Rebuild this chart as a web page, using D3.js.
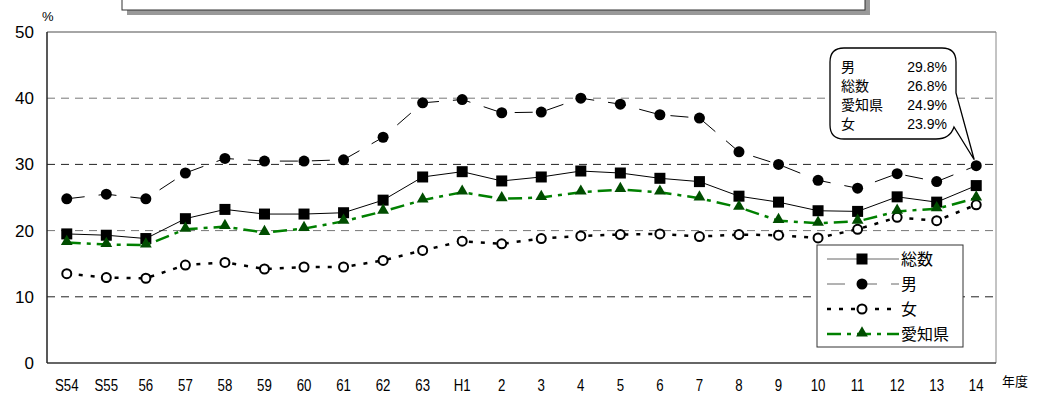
<!DOCTYPE html>
<html><head><meta charset="utf-8">
<script src="https://cdn.jsdelivr.net/npm/d3@7"></script>
<style>body{margin:0;background:#fff}text{font-family:"Liberation Sans","Noto Sans CJK JP",sans-serif}</style>
</head><body><div id="chart"></div>
<script>
// data
const years = ["S54","S55","56","57","58","59","60","61","62","63","H1","2","3","4","5","6","7","8","9","10","11","12","13","14"];
const total = [19.5,19.3,18.8,21.8,23.2,22.5,22.5,22.7,24.6,28.1,28.9,27.5,28.1,29.0,28.7,27.9,27.4,25.2,24.3,23.0,22.9,25.1,24.3,26.8];
const male = [24.8,25.5,24.8,28.7,30.9,30.5,30.5,30.7,34.1,39.3,39.8,37.8,37.9,40.0,39.1,37.5,37.0,31.9,30.0,27.6,26.4,28.6,27.4,29.8];
const female = [13.5,12.9,12.8,14.8,15.2,14.2,14.5,14.5,15.5,17.0,18.4,18.0,18.8,19.2,19.4,19.5,19.1,19.4,19.3,18.9,20.2,22.0,21.5,23.9];
const aichi = [18.2,17.9,17.8,20.2,20.6,19.7,20.3,21.4,22.9,24.6,25.8,24.8,25.0,25.8,26.2,25.8,24.9,23.5,21.5,21.1,21.4,22.9,23.3,24.9];
const yTicks = [0,10,20,30,40,50];

const W = 1042, H = 400;
const pLeft = 47, pRight = 996, pTop = 32, pBottom = 363;
const svg = d3.select("#chart").append("svg").attr("width", W).attr("height", H);

const x = d3.scaleBand().domain(years).range([pLeft, pRight]);
const cx = d => x(d) + x.bandwidth() / 2;
const y = d3.scaleLinear().domain([0, 50]).range([pBottom, pTop]);

// title box (text cut off above the frame)
svg.append("rect").attr("x", 127).attr("y", -10).attr("width", 743).attr("height", 25).attr("fill", "#999");
svg.append("rect").attr("x", 122).attr("y", -15).attr("width", 743).attr("height", 25).attr("fill", "#fff").attr("stroke", "#333");

// grid
svg.append("g").selectAll("line").data(yTicks.filter(t => t > 0 && t < 50)).join("line")
    .attr("x1", pLeft).attr("x2", pRight).attr("y1", d => y(d)).attr("y2", d => y(d))
    .attr("stroke", (d, i) => i % 2 ? "#777" : "#222").attr("stroke-dasharray", "8,6");

// frame
svg.append("line").attr("x1", pLeft).attr("x2", pRight).attr("y1", pTop).attr("y2", pTop).attr("stroke", "#888").attr("stroke-width", 1.5);
svg.append("line").attr("x1", pRight).attr("x2", pRight).attr("y1", pTop).attr("y2", pBottom).attr("stroke", "#888");
svg.append("line").attr("x1", pLeft).attr("x2", pRight).attr("y1", pBottom).attr("y2", pBottom).attr("stroke", "#333").attr("stroke-width", 1.5);
svg.append("line").attr("x1", pLeft).attr("x2", pLeft).attr("y1", pTop).attr("y2", pBottom).attr("stroke", "#222").attr("stroke-width", 1.5);

// axis labels
svg.append("g").selectAll("text").data(yTicks).join("text")
    .attr("x", 34).attr("y", d => y(d) + 6).attr("text-anchor", "end")
    .style("font-size", "17px").text(d => d);
svg.append("g").selectAll("text").data(years).join("text")
    .attr("x", d => cx(d)).attr("y", 391).attr("text-anchor", "middle")
    .attr("transform", d => `translate(${cx(d)},0) scale(0.78,1) translate(${-cx(d)},0)`)
    .style("font-size", "17px").text(d => d);
svg.append("text").attr("x", 1002).attr("y", 386).style("font-size", "13px").text("年度");
svg.append("text").attr("x", 42).attr("y", 21).style("font-size", "13px").text("%");

const series = [
    { name: "総数", vals: total, color: "#000", width: 1, dash: null, marker: "square" },
    { name: "男", vals: male, color: "#000", width: 1, dash: "18,14", marker: "circle" },
    { name: "女", vals: female, color: "#000", width: 2.5, dash: "4,8", marker: "open" },
    { name: "愛知県", vals: aichi, color: "#008000", width: 2.5, dash: "14,6,4,6", marker: "triangle" }
];

const line = d3.line().x((d, i) => cx(years[i])).y(d => y(d));

function drawMarker(g, type, px, py) {
    if (type === "square") g.append("rect").attr("x", px - 5.5).attr("y", py - 5.5).attr("width", 11).attr("height", 11).attr("fill", "#000");
    else if (type === "circle") g.append("circle").attr("cx", px).attr("cy", py).attr("r", 5.5).attr("fill", "#000");
    else if (type === "open") g.append("circle").attr("cx", px).attr("cy", py).attr("r", 4.5).attr("fill", "#fff").attr("stroke", "#000").attr("stroke-width", 2);
    else g.append("path").attr("d", d3.symbol(d3.symbolTriangle, 60)()).attr("transform", `translate(${px},${py - 1})`).attr("fill", "#004d00");
}

series.forEach(s => {
    svg.append("path").datum(s.vals).attr("d", line).attr("fill", "none")
        .attr("stroke", s.color).attr("stroke-width", s.width).attr("stroke-dasharray", s.dash);
    const g = svg.append("g");
    s.vals.forEach((v, i) => drawMarker(g, s.marker, cx(years[i]), y(v)));
});

// legend
const lg = svg.append("g").attr("transform", "translate(817,245)");
lg.append("rect").attr("width", 146).attr("height", 102).attr("fill", "#fff").attr("stroke", "#333");
series.forEach((s, i) => {
    const ly = 14 + i * 25;
    lg.append("line").attr("x1", 10).attr("x2", 82).attr("y1", ly).attr("y2", ly)
        .attr("stroke", s.color === "#000" && s.width === 1 ? "#666" : s.color).attr("stroke-width", s.width).attr("stroke-dasharray", s.dash);
    drawMarker(lg, s.marker, 45, ly);
    lg.append("text").attr("x", 84).attr("y", ly + 6).style("font-size", "16px").text(s.name);
});

// callout for latest year
const last = years.length - 1;
const callout = [["男", male[last]], ["総数", total[last]], ["愛知県", aichi[last]], ["女", female[last]]];
const px = cx(years[last]), py = y(male[last]);
const bx = 830, by = 48, bw = 126, bh = 91, r = 14;
svg.append("path").attr("fill", "#fff").attr("stroke", "#000").attr("stroke-width", 1.3)
    .attr("d", `M${bx + r},${by} H${bx + bw - r} Q${bx + bw},${by} ${bx + bw},${by + r} V${by + 45}
        L${px - 2},${py - 6} L${bx + bw - 2},${by + bh - 12} Q${bx + bw - 6},${by + bh} ${bx + bw - r - 6},${by + bh}
        H${bx + r} Q${bx},${by + bh} ${bx},${by + bh - r} V${by + r} Q${bx},${by} ${bx + r},${by}Z`);
callout.forEach((c, i) => {
    svg.append("text").attr("x", 841).attr("y", 72 + i * 19).style("font-size", "14px").text(c[0]);
    svg.append("text").attr("x", 947).attr("y", 72 + i * 19).attr("text-anchor", "end").style("font-size", "14px").text(c[1].toFixed(1) + "%");
});
</script></body></html>
